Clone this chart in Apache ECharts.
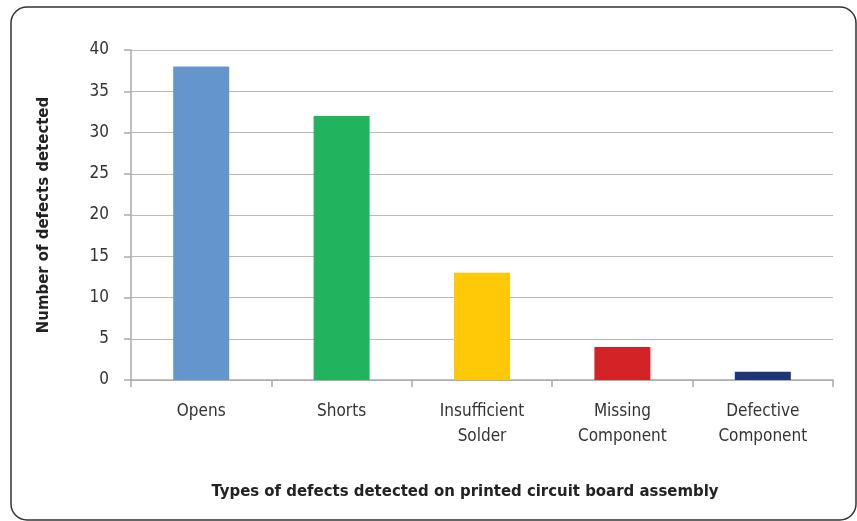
<!DOCTYPE html>
<html>
<head>
<meta charset="utf-8">
<script src="https://cdn.jsdelivr.net/npm/echarts@6/dist/echarts.min.js"></script>
<style>
  html, body {margin: 0; padding: 0; background: #fff;}
  #chart {width: 857px; height: 521px;}
</style>
</head>
<body>
<div id="chart"></div>
<script>
const categories = ['Opens', 'Shorts', 'Insufficient\nSolder', 'Missing\nComponent', 'Defective\nComponent'];
const defects = [38, 32, 13, 4, 1];
const barColors = ['#6495CD', '#22B35F', '#FFC907', '#D42327', '#1E3578'];
const yTicks = {min: 0, max: 40, interval: 5};

const font = '"DejaVu Sans Condensed", "Liberation Sans Narrow", Roboto, sans-serif';

const chart = echarts.init(document.getElementById('chart'));
chart.setOption({
    animation: false,
    textStyle: {fontFamily: font},
    // x-axis caption sits left of the plot centre in the original, so it's a title
    title: {
        text: 'Types of defects detected on printed circuit board assembly',
        left: 460, top: 478, textAlign: 'center',
        textStyle: {fontFamily: font, fontSize: 16.6, fontWeight: 'bold', color: '#222'}
    },
    graphic: [{
        type: 'rect', silent: true, z: -1,
        shape: {x: 11, y: 7, width: 845, height: 513, r: 16},
        style: {fill: 'none', stroke: '#333', lineWidth: 1.5}
    }],
    grid: {left: 131, right: 24, top: 50, bottom: 141},
    xAxis: {
        type: 'category',
        data: categories,
        axisLine: {lineStyle: {color: '#aaa', width: 1.5}},
        axisTick: {show: true, length: 7, lineStyle: {color: '#aaa', width: 1.5}},
        axisLabel: {fontFamily: font, fontSize: 17, color: '#333', margin: 19, lineHeight: 25}
    },
    yAxis: {
        type: 'value',
        min: yTicks.min, max: yTicks.max, interval: yTicks.interval,
        name: 'Number of defects detected',
        nameLocation: 'middle',
        nameGap: 79,
        nameRotate: 90,
        nameTextStyle: {fontFamily: font, fontSize: 16.6, fontWeight: 'bold', color: '#222'},
        axisLine: {show: true, lineStyle: {color: '#aaa', width: 1.5}},
        axisTick: {show: true, length: 7, lineStyle: {color: '#aaa', width: 1.5}},
        axisLabel: {fontFamily: font, fontSize: 17, color: '#333', margin: 22},
        splitLine: {lineStyle: {color: '#bbb', width: 1.2}}
    },
    series: [{
        type: 'bar',
        barWidth: 56,
        data: defects.map((v, i) => ({value: v, itemStyle: {color: barColors[i]}}))
    }]
});
</script>
</body>
</html>
